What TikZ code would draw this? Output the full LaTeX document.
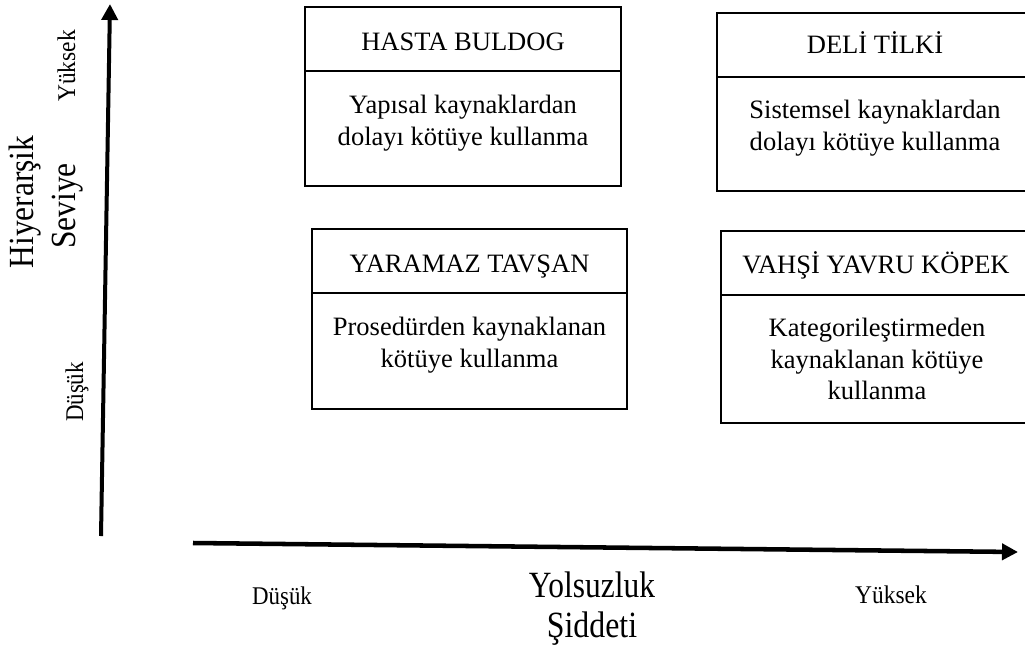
\documentclass[tikz,border=0pt]{standalone}
\usepackage{fontspec}
\setmainfont{Liberation Serif}
\usetikzlibrary{arrows.meta}
\tikzset{
  cell/.style={draw=black, line width=1.5pt, rectangle, inner sep=0pt, outer sep=0pt, anchor=north west},
  ttl/.style={inner sep=0pt, anchor=base, font=\fontsize{19.9pt}{23.6pt}\selectfont},
  bdy/.style={inner sep=0pt, anchor=north, align=center, font=\fontsize{19.9pt}{23.6pt}\selectfont},
  axisline/.style={line width=3pt, -{Triangle[length=12pt,width=12pt]}},
  small/.style={inner sep=0pt, anchor=base, font=\fontsize{19.1pt}{22pt}\selectfont},
  big/.style={inner sep=0pt, anchor=base, font=\fontsize{26.5pt}{30pt}\selectfont},
  bigger/.style={inner sep=0pt, anchor=base, font=\fontsize{27.75pt}{32pt}\selectfont}
}
\begin{document}
\begin{tikzpicture}[x=0.75pt,y=-0.75pt]
\useasboundingbox (0,0) rectangle (1025,647);

% axes
\coordinate (ya) at (101,536);
\coordinate (yz) at (110,4);
\draw[axisline] (ya) -- (yz);
\coordinate (xa) at (193,543);
\coordinate (xz) at (1018,552);
\draw[axisline, line width=3.4pt] (xa) -- (xz);

% vertical axis labels
\node[big, rotate=90] (hiy) at (33,202) {\scalebox{0.89}[1]{Hiyerarşik}};
\node[big, rotate=90] (sev) at (75,206) {\scalebox{0.89}[1]{Seviye}};
\node[small, rotate=90] (yyuk) at (75,66) {\scalebox{0.92}[1]{Yüksek}};
\node[small, rotate=90] (ydus) at (83,392) {\scalebox{0.9}[1]{Düşük}};

% horizontal axis labels
\node[small] (xdus) at (282,604) {\scalebox{0.9}[1]{Düşük}};
\node[small] (xyuk) at (891,603) {\scalebox{0.92}[1]{Yüksek}};
\node[bigger] (yols) at (592,597) {\scalebox{0.85}[1]{Yolsuzluk}};
\node[bigger] (sidd) at (592,637) {\scalebox{0.86}[1]{Şiddeti}};

% HASTA BULDOG
\node[cell, minimum width=316*0.75pt, minimum height=64*0.75pt] (hbT) at (305,7) {};
\node[cell, minimum width=316*0.75pt, minimum height=115*0.75pt] (hbB) at (hbT.south west) {};
\node[ttl] (hbTt) at (463,50) {HASTA BULDOG};
\node[bdy] (hbBt) at (463,95) {Yapısal kaynaklardan\\dolayı kötüye kullanma};

% YARAMAZ TAVSAN
\node[cell, minimum width=315*0.75pt, minimum height=64*0.75pt] (ytT) at (312,229) {};
\node[cell, minimum width=315*0.75pt, minimum height=116*0.75pt] (ytB) at (ytT.south west) {};
\node[ttl] (ytTt) at (469.5,272) {YARAMAZ TAVŞAN};
\node[bdy] (ytBt) at (469.5,317) {Prosedürden kaynaklanan\\kötüye kullanma};

% DELI TILKI
\node[cell, minimum width=316*0.75pt, minimum height=64*0.75pt] (dtT) at (717,13) {};
\node[cell, minimum width=316*0.75pt, minimum height=114*0.75pt] (dtB) at (dtT.south west) {};
\node[ttl] (dtTt) at (875,53) {DELİ TİLKİ};
\node[bdy] (dtBt) at (875,100) {Sistemsel kaynaklardan\\dolayı kötüye kullanma};

% VAHSI YAVRU KOPEK
\node[cell, minimum width=316*0.75pt, minimum height=64*0.75pt] (vkT) at (721,231) {};
\node[cell, minimum width=316*0.75pt, minimum height=128*0.75pt] (vkB) at (vkT.south west) {};
\node[ttl] (vkTt) at (876,273) {VAHŞİ YAVRU KÖPEK};
\node[bdy] (vkBt) at (877,318) {Kategorileştirmeden\\kaynaklanan kötüye\\kullanma};
\end{tikzpicture}
\end{document}
